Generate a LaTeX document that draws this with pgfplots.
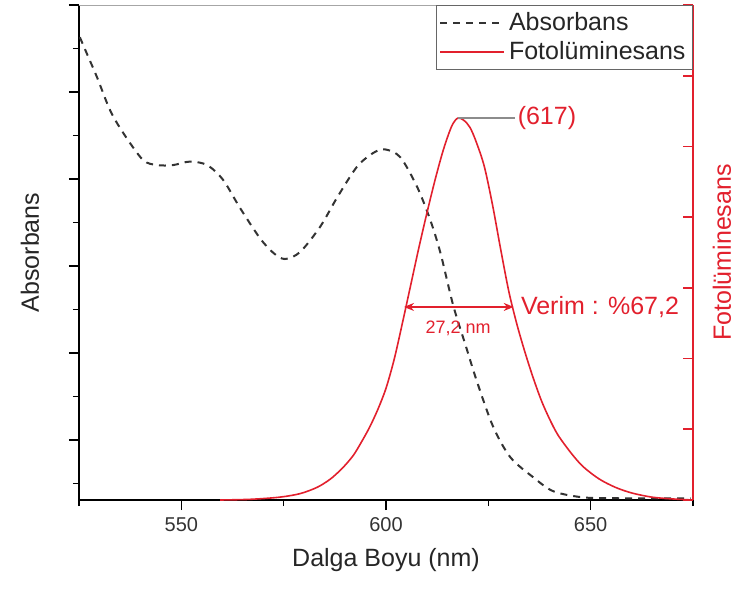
\documentclass[border=0pt]{standalone}
\usepackage{fontspec}
\setmainfont{Liberation Sans}
\usepackage{pgfplots}
\pgfplotsset{compat=1.18}
\usetikzlibrary{arrows.meta}
\definecolor{plred}{RGB}{226,32,45}
\begin{document}
\begin{tikzpicture}
\useasboundingbox (-39.5pt,-44pt) rectangle (329pt,250pt);
\begin{axis}[
  scale only axis, width=307pt, height=247.5pt,
  xmin=525, xmax=675, ymin=-0.69, ymax=5,
  axis x line*=bottom, axis y line*=left,
  axis line style={-, line width=0.9pt, black},
  xtick={550,600,650}, minor xtick={525,575,625,675},
  ytick={0,1,2,3,4,5}, minor ytick={-0.5,0.5,1.5,2.5,3.5,4.5},
  yticklabels={},
  tick align=outside, major tick length=5pt, minor tick length=3pt,
  tick style={line width=0.8pt, black},
  /pgf/number format/assume math mode=true,
  x tick label style={font=\fontsize{10}{12}\selectfont, text=black!80},
  xlabel={Dalga Boyu (nm)},
  xlabel style={at={(axis description cs:0.5,-0.121)}, anchor=center, font=\fontsize{12.5}{14}\selectfont, text=black!85},
  ylabel={Absorbans},
  ylabel style={at={(axis description cs:-0.08,0.5)}, anchor=center, font=\fontsize{12.5}{14}\selectfont, text=black!85},
]
\addplot[black!80, line width=1pt, dash pattern=on 3.5pt off 3pt, smooth] coordinates {
(525.2,4.63) (527.3,4.40) (529.4,4.17) (532.6,3.79) (535.8,3.53) (540.6,3.22)
(544.1,3.16) (548.0,3.16) (552.1,3.20) (556.3,3.16) (560.2,2.99) (564.3,2.67)
(569.2,2.32) (572.5,2.15) (575.3,2.08) (579.0,2.16) (583.9,2.45) (588.1,2.79)
(592.9,3.14) (596.9,3.30) (599.8,3.34) (603.5,3.25) (607.6,2.91) (610.8,2.53)
(613.3,2.15) (616.4,1.55) (619.5,1.08) (622.3,0.66) (626.2,0.15) (630.4,-0.20)
(636.0,-0.43) (640.9,-0.59) (648.2,-0.66) (657.3,-0.67) (674.4,-0.67)
};
\end{axis}
\begin{axis}[
  scale only axis, width=307pt, height=247.5pt,
  xmin=525, xmax=675, ymin=0, ymax=7,
  axis x line=none, axis y line*=right,
  axis line style={-, line width=0.9pt, plred},
  xtick=\empty,
  ytick={0,1,2,3,4,5,6,7}, yticklabels={},
  tick align=inside, major tick length=5pt,
  y tick style={line width=0.8pt, plred},
  ylabel={Fotolüminesans},
  ylabel style={at={(axis description cs:1.047,0.5)}, anchor=center, font=\fontsize{12.5}{14}\selectfont, text=plred},
  legend style={at={(axis description cs:1,1)}, anchor=north east, draw=black!60, line width=0.5pt,
    font=\fontsize{12.5}{15}\selectfont, inner sep=1.5pt, row sep=0pt, text=black!85},
  legend cell align=left,
  legend image code/.code={\draw[#1] (0pt,0pt) -- (32pt,0pt);},
]
\addlegendimage{black!80, line width=1pt, dash pattern=on 3.5pt off 3pt}
\addlegendentry{Absorbans}
\addplot[plred, line width=0.8pt, smooth] coordinates {
(559.5,0.0) (567,0.01) (574,0.04) (579,0.09) (583.2,0.18) (586.5,0.30) (589.5,0.46)
(592,0.63) (594,0.82) (596,1.03) (598,1.28) (600,1.58) (602,1.99) (604,2.50)
(606,3.03) (608,3.56) (610,4.06) (612,4.53) (614,4.95) (616,5.28) (617.5,5.40)
(619,5.37) (620.5,5.27) (622,5.07) (624,4.72) (626,4.18) (628,3.55) (630,2.95)
(632,2.48) (634,2.08) (636,1.72) (638,1.40) (640,1.14) (642,0.92) (645,0.68)
(648,0.48) (652,0.30) (656,0.18) (660,0.10) (665,0.04) (670,0.015) (675,0.0)
};
\addlegendentry{Fotolüminesans}
\draw[black!35, line width=0.8pt] (rel axis cs:0,1) -- (rel axis cs:1,1);
\draw[black!45, line width=0.8pt] (axis cs:617.5,5.40) -- (axis cs:631.5,5.40);
\node[anchor=west, text=plred, font=\fontsize{12.5}{14}\selectfont, inner sep=1pt] at (axis cs:631.6,5.40) {(617)};
\draw[plred, line width=0.7pt, {Stealth[length=5pt,width=4pt]}-{Stealth[length=5pt,width=4pt]}] (axis cs:604.4,2.73) -- (axis cs:631.2,2.73);
\node[text=plred, font=\fontsize{9}{10}\selectfont] at (axis cs:617.6,2.43) {27,2 nm};
\node[anchor=west, text=plred, font=\fontsize{12.5}{14}\selectfont, inner sep=1pt] at (axis cs:632.4,2.73) {Verim : \%67,2};
\end{axis}
\end{tikzpicture}
\end{document}
